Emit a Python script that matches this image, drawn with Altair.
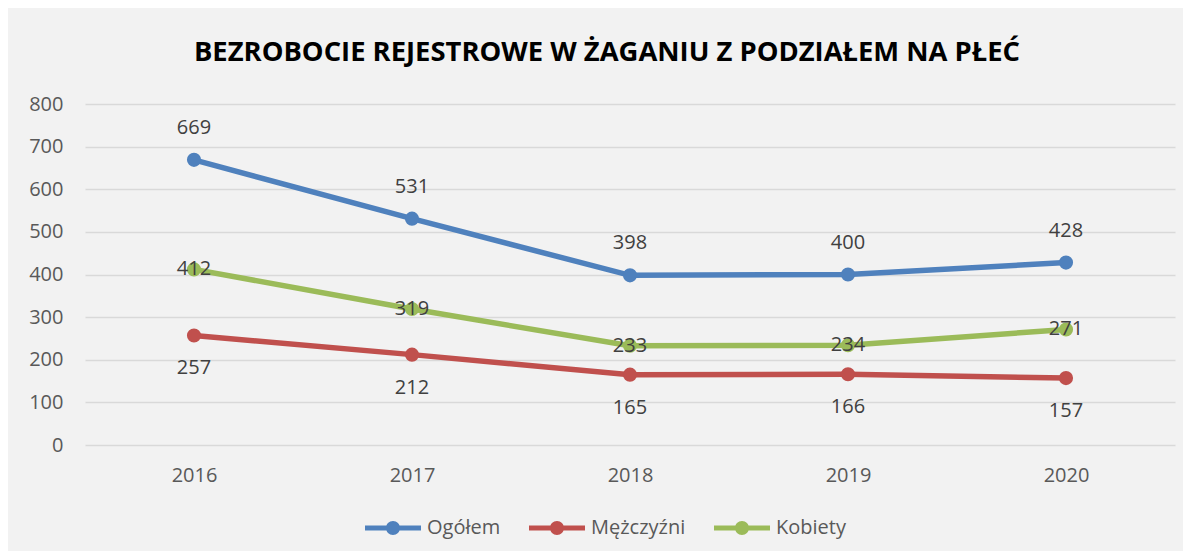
import altair as alt
import pandas as pd

years = ["2016", "2017", "2018", "2019", "2020"]
series = ["Ogółem", "Mężczyźni", "Kobiety"]
ogolem = [669, 531, 398, 400, 428]
mezczyzni = [257, 212, 165, 166, 157]
kobiety = [412, 319, 233, 234, 271]
colors = ["#4F81BD", "#C0504D", "#9BBB59"]

rows = []
for name, vals in zip(series, [ogolem, mezczyzni, kobiety]):
    for y, v in zip(years, vals):
        rows.append({"rok": y, "seria": name, "wartosc": v})
df = pd.DataFrame(rows)

FONT = "Open Sans"
legend_path = ("M-4,-0.36 L4,-0.36 L4,0.36 L-4,0.36 Z "
               "M-1,0 A1,1 0 1 1 1,0 A1,1 0 1 1 -1,0 Z")

x = alt.X("rok:O", scale=alt.Scale(type="point", padding=0.5),
          axis=alt.Axis(title=None, labelAngle=0, ticks=False, domain=False, grid=False,
                        labelPadding=20, labelFontSize=20, labelColor="#595959", labelFont=FONT))
y = alt.Y("wartosc:Q", scale=alt.Scale(domain=[0, 800], nice=False),
          axis=alt.Axis(title=None, values=list(range(0, 801, 100)), ticks=False, domain=False,
                        gridColor="#D9D9D9", gridWidth=1.5, labelPadding=22,
                        labelFontSize=20, labelColor="#595959", labelFont=FONT))
color = alt.Color("seria:N", scale=alt.Scale(domain=series, range=colors),
                  sort=series,
                  legend=alt.Legend(title=None, orient="none", direction="horizontal",
                                    legendX=278, legendY=414,
                                    symbolType=legend_path, symbolSize=196, symbolStrokeWidth=0,
                                    labelFontSize=20, labelColor="#595959", labelFont=FONT,
                                    labelOffset=24, symbolOffset=20, columnPadding=26))

base = alt.Chart(df)
lines = base.mark_line(strokeWidth=5.5).encode(x=x, y=y, color=color, order=alt.value(0))
points = base.mark_point(filled=True, size=200, opacity=1).encode(x=x, y=y, color=color)

def labels(name, dy):
    return base.transform_filter(alt.datum.seria == name).mark_text(
        dy=dy, fontSize=20, color="#404040", font=FONT
    ).encode(x=x, y=y, text="wartosc:Q")

chart = alt.layer(
    lines, points,
    labels("Ogółem", -32), labels("Mężczyźni", 33), labels("Kobiety", 0)
).properties(
    width=1090, height=341,
    title=alt.TitleParams("BEZROBOCIE REJESTROWE W ŻAGANIU Z PODZIAŁEM NA PŁEĆ",
                          font=FONT, fontSize=27.4, fontWeight="bold", color="#000000",
                          anchor="middle", frame="group", offset=28, dx=-23),
    padding={"left": 77, "top": 96, "right": 8, "bottom": 106},
    autosize=alt.AutoSizeParams(type="none"),
    background="#F2F2F2",
).configure_view(stroke=None)

chart.save("out.html", embed_options={"renderer": "svg", "actions": False})
